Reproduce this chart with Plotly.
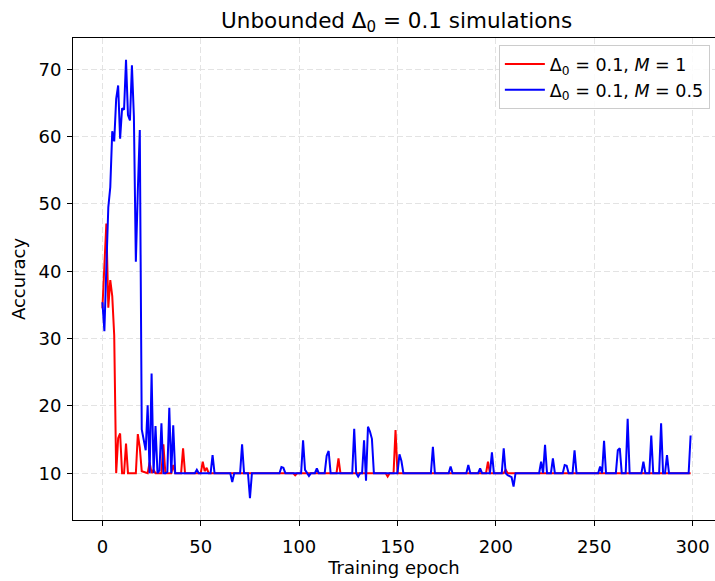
import plotly.graph_objects as go

# ---- data (vertices of each polyline; epochs and accuracy) ----
red_epoch = [0, 1, 2, 3, 4, 5, 6, 7, 8, 9, 10, 11, 12, 13, 17, 18, 19, 20, 21, 22,
             23, 24, 25, 26, 27, 30, 31, 32, 35, 36, 37, 40, 41, 42, 50, 51, 52, 53, 54,
             97, 98, 99, 119, 120, 121, 144, 145, 146, 148, 149, 150, 195, 196, 197,
             204, 205, 206, 299]
red_acc = [34.5, 40.5, 47.1, 34.6, 38.7, 36.3, 30.5, 10.0, 15.2, 15.9, 10.0, 10.0, 14.4, 10.0,
           10.0, 15.8, 13.8, 10.3, 10.2, 10.0, 10.0, 11.6, 10.0, 10.5, 10.0, 10.0, 14.3, 10.0,
           10.0, 11.2, 10.0, 10.0, 13.7, 10.0, 10.0, 11.7, 10.3, 10.8, 10.0,
           10.0, 9.7, 10.0, 10.0, 12.2, 10.0, 10.0, 9.5, 10.0, 10.0, 16.4, 10.0, 10.0, 11.7, 10.0,
           10.0, 10.5, 10.0, 10.0]

blue_epoch = [0, 1, 2, 3, 4, 5, 6, 7, 8, 9, 10, 11, 12, 13, 14, 15, 16, 17, 18, 19,
              20, 21, 22, 23, 24, 25, 26, 27, 28, 29, 30, 31, 32, 33, 34, 35, 36, 37,
              47, 48, 49, 55, 56, 57, 65, 66, 67, 70, 71, 72, 74, 75, 76,
              90, 91, 92, 93, 101, 102, 103, 104, 105, 106, 108, 109, 110,
              113, 114, 115, 116, 127, 128, 129, 130, 131, 132, 133, 134, 135, 136, 137, 138,
              150, 151, 152, 153, 167, 168, 169, 176, 177, 178, 185, 186, 187,
              191, 192, 193, 197, 198, 199, 203, 204, 205, 206, 207, 208, 209, 210,
              222, 223, 224, 225, 226, 228, 229, 230, 234, 235, 236, 237,
              239, 240, 241, 252, 253, 254, 255, 256, 261, 262, 263, 264,
              266, 267, 268, 274, 275, 276, 278, 279, 280, 283, 284, 285,
              286, 287, 288, 298, 299]
blue_acc = [35.4, 31.1, 40.5, 49.5, 52.5, 60.8, 59.3, 65.6, 67.6, 59.7, 64.2, 64.0, 71.4,
            63.2, 62.4, 70.6, 63.0, 41.4, 52.0, 61.0,
            16.5, 15.0, 13.4, 20.1, 10.0, 24.8, 10.0, 17.0, 10.0, 10.4, 17.4, 10.0, 10.0,
            10.2, 19.7, 10.0, 17.1, 10.0,
            10.0, 10.5, 10.0, 10.0, 12.7, 10.0, 10.0, 8.7, 10.0, 10.0, 14.3, 10.0, 10.0, 6.3, 10.0,
            10.0, 10.9, 10.8, 10.0, 10.0, 14.9, 10.5, 10.0, 9.6, 10.0, 10.0, 10.7, 10.0,
            10.0, 12.6, 13.3, 10.0, 10.0, 16.6, 10.0, 9.5, 10.0, 10.0, 14.9, 8.9, 16.9, 16.2,
            15.1, 10.0,
            10.0, 12.8, 11.8, 10.0, 10.0, 13.9, 10.0, 10.0, 11.0, 10.0, 10.0, 11.2, 10.0,
            10.0, 10.7, 10.0, 10.0, 13.1, 10.0, 10.0, 13.7, 10.0, 9.7, 9.6, 9.4, 8.0, 10.0,
            10.0, 11.7, 10.0, 14.2, 10.0, 10.0, 12.2, 10.0, 10.0, 11.2, 11.1, 10.0,
            10.0, 13.4, 10.0, 10.0, 11.0, 10.0, 14.8, 10.0, 10.0, 13.4, 13.7, 10.0,
            10.0, 18.1, 10.0, 10.0, 11.7, 10.0, 10.0, 15.6, 10.0, 10.0, 17.4, 10.0,
            10.0, 12.7, 10.0, 10.0, 15.6]

red_name = "Δ<sub>0</sub> = 0.1, <i>M</i> = 1"
blue_name = "Δ<sub>0</sub> = 0.1, <i>M</i> = 0.5"
title_text = "Unbounded Δ<sub>0</sub> = 0.1 simulations"
x_title = "Training epoch"
y_title = "Accuracy"
x_ticks = [0, 50, 100, 150, 200, 250, 300]
y_ticks = [10, 20, 30, 40, 50, 60, 70]

FONT = "DejaVu Sans"
FS = 18

fig = go.Figure()
fig.add_trace(go.Scatter(x=red_epoch, y=red_acc, mode="lines", name=red_name,
                         line=dict(color="#ff0000", width=2)))
fig.add_trace(go.Scatter(x=blue_epoch, y=blue_acc, mode="lines", name=blue_name,
                         line=dict(color="#0000ff", width=2)))

# matplotlib-like 5% margins
all_y = red_acc + blue_acc
ymin, ymax = min(all_y), max(all_y)
ypad = 0.05 * (ymax - ymin)
xmin, xmax = 0, 299
xpad = 0.05 * (xmax - xmin)

axis_common = dict(
    showline=True, linecolor="black", linewidth=1, mirror=True,
    ticks="outside", ticklen=5, tickwidth=1, tickcolor="black",
    showgrid=True, gridcolor="#e3e3e3", gridwidth=1, griddash="6px,3px",
    zeroline=False,
    tickfont=dict(family=FONT, size=FS, color="black"),
    title_font=dict(family=FONT, size=FS, color="black"),
)

fig.update_xaxes(range=[xmin - xpad, 311.4], tickvals=x_ticks,
                 title_text=x_title, title_standoff=2, ticklabelstandoff=5, **axis_common)
fig.update_yaxes(range=[ymin - ypad, ymax + ypad], tickvals=y_ticks,
                 title_text=y_title, title_standoff=8, ticklabelstandoff=2, **axis_common)

fig.update_layout(
    width=715, height=581,
    margin=dict(l=73, r=0, t=38, b=61),
    plot_bgcolor="white", paper_bgcolor="white",
    font=dict(family=FONT, size=FS, color="black"),
    title=dict(text=title_text, x=0.5547, xref="container", xanchor="center",
               y=1 - 20 / 581, yref="container", yanchor="middle",
               font=dict(family=FONT, size=21.5, color="black")),
    legend=dict(x=0.992, y=0.985, xanchor="right", yanchor="top",
                bgcolor="rgba(255,255,255,0.85)", bordercolor="#cccccc", borderwidth=1,
                font=dict(family=FONT, size=17.5, color="black"),
                itemwidth=40),
    showlegend=True,
)

fig.write_html("out.html")
